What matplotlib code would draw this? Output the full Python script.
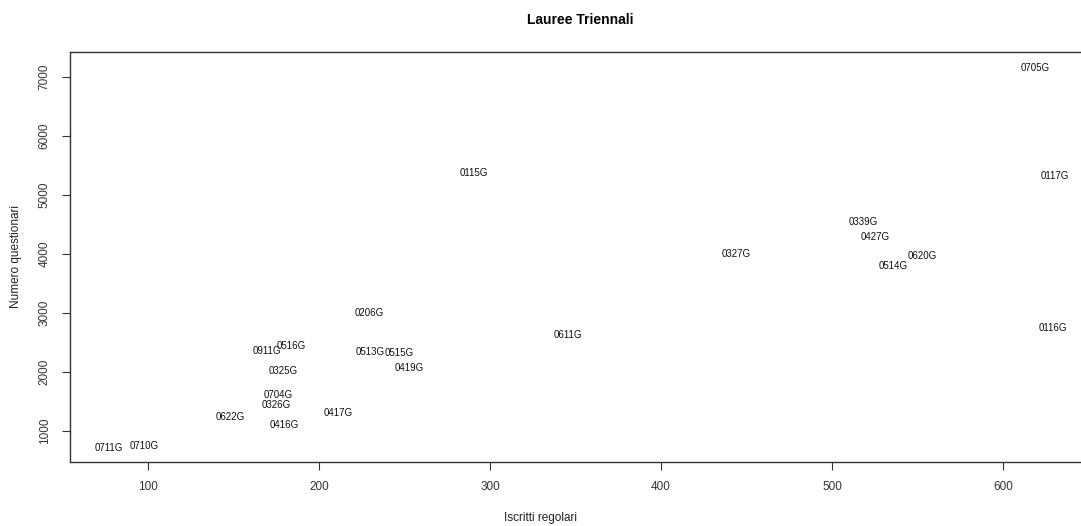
import matplotlib
matplotlib.use("Agg")
import matplotlib.pyplot as plt

plt.rcParams['font.family'] = ['Liberation Sans', 'DejaVu Sans']

# codici corso, iscritti regolari, numero questionari
codici = ["0705G", "0117G", "0115G", "0339G", "0427G", "0327G", "0620G", "0514G",
          "0116G", "0611G", "0206G", "0911G", "0516G", "0513G", "0515G", "0419G",
          "0325G", "0704G", "0326G", "0622G", "0417G", "0416G", "0711G", "0710G"]
iscritti = [618.7, 630.4, 290.6, 518.1, 525.1, 443.9, 552.6, 535.7,
            629.2, 345.6, 229.2, 169.6, 183.5, 229.8, 247.0, 252.8,
            179.1, 176.2, 174.9, 148.0, 211.1, 179.5, 77.0, 97.5]
questionari = [7153, 5322, 5373, 4542, 4288, 4000, 3966, 3797,
               2746, 2627, 3000, 2356, 2441, 2334, 2322, 2063,
               2017, 1610, 1441, 1243, 1300, 1097, 717, 751]

xticks = [100, 200, 300, 400, 500, 600]
yticks = [1000, 2000, 3000, 4000, 5000, 6000, 7000]

fig = plt.figure(figsize=(10.81, 5.26), dpi=100)
# il grafico originale e' tagliato a destra: il bordo destro resta fuori
ax = fig.add_axes([70 / 1081, 64 / 526, 1030 / 1081, 410 / 526])

for c, x, y in zip(codici, iscritti, questionari):
    ax.text(x, y, c, ha="center", va="center", fontsize=7, color="#111111")

ax.set_xlim(54.4, 54.4 + 1030 / 1.71)
ax.set_ylim(475, 7424)
ax.set_xticks(xticks)
ax.set_yticks(yticks)
ax.set_xticklabels([str(t) for t in xticks])
ax.set_yticklabels([str(t) for t in yticks], rotation=90, va="center")
ax.tick_params(axis="both", direction="out", length=6, width=0.8,
               labelsize=8.5, colors="#333333", pad=8)
for s in ax.spines.values():
    s.set_color("#333333")
    s.set_linewidth(1.0)

ax.set_xlabel("Iscritti regolari", fontsize=8.5, color="#222222", va="center")
ax.xaxis.set_label_coords((540 - 70) / 1030, -(518 - 462) / 410)
ax.set_ylabel("Numero questionari", fontsize=8.5, color="#222222", va="center")
ax.yaxis.set_label_coords(-(70 - 16) / 1030, 0.5)

fig.text(580 / 1081, 1 - 20 / 526, "Lauree Triennali", ha="center", va="center",
         fontsize=10, fontweight="bold")

fig.savefig("out.png", dpi=100, facecolor="white")
